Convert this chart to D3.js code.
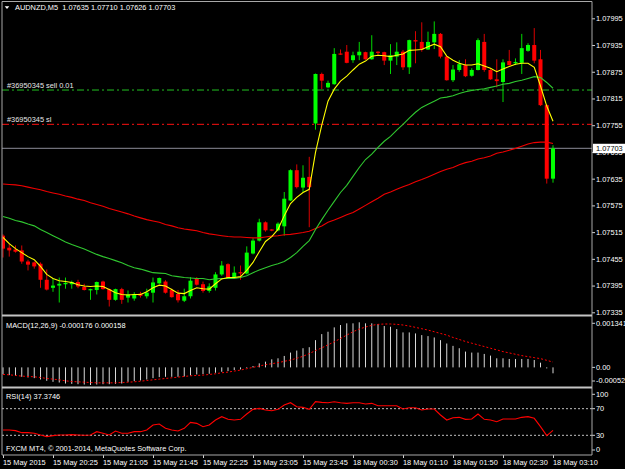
<!DOCTYPE html>
<html><head><meta charset="utf-8">
<script src="https://cdn.jsdelivr.net/npm/d3@7"></script>
<style>html,body{margin:0;padding:0;background:#000;overflow:hidden}svg{display:block}</style>
</head><body><svg id="c" width="625" height="469"></svg>
<script>
// ---------- DATA ----------
const symbolTitle = "AUDNZD,M5  1.07635 1.07710 1.07626 1.07703";
const openP = [1.07507,1.07480,1.07476,1.07474,1.07449,1.07447,1.07444,1.07408,1.07390,1.07395,
1.07398,1.07398,1.07403,1.07392,1.07385,1.07385,1.07404,1.07387,1.07363,1.07387,
1.07368,1.07366,1.07377,1.07371,1.07379,1.07400,1.07404,1.07385,1.07376,1.07361,
1.07371,1.07412,1.07398,1.07383,1.07390,1.07420,1.07443,1.07413,1.07425,1.07422,
1.07467,1.07496,1.07537,1.07521,1.07519,1.07528,1.07586,1.07654,1.07615,1.07639,
1.07759,1.07870,1.07840,1.07847,1.07916,1.07920,1.07901,1.07912,1.07919,1.07903,
1.07920,1.07919,1.07900,1.07909,1.07920,1.07885,1.07946,1.07942,1.07925,1.07941,
1.07960,1.07909,1.07856,1.07879,1.07890,1.07866,1.07879,1.07942,1.07879,1.07858,
1.07852,1.07899,1.07894,1.07895,1.07922,1.07935,1.07903,1.07800,1.07635];
const highP = [1.07510,1.07489,1.07485,1.07485,1.07453,1.07449,1.07447,1.07431,1.07411,1.07413,
1.07413,1.07406,1.07408,1.07399,1.07388,1.07404,1.07406,1.07388,1.07388,1.07390,
1.07384,1.07380,1.07381,1.07388,1.07413,1.07413,1.07407,1.07388,1.07385,1.07388,
1.07414,1.07414,1.07404,1.07400,1.07425,1.07450,1.07445,1.07438,1.07440,1.07483,
1.07501,1.07545,1.07539,1.07522,1.07537,1.07605,1.07656,1.07667,1.07665,1.07684,
1.07871,1.07873,1.07855,1.07928,1.07925,1.07935,1.07920,1.07942,1.07920,1.07957,
1.07921,1.07920,1.07937,1.07941,1.07924,1.07947,1.07966,1.07986,1.07965,1.07988,
1.07962,1.07910,1.07890,1.07901,1.07903,1.07883,1.07950,1.07960,1.07881,1.07903,
1.07903,1.07924,1.07905,1.07960,1.07939,1.07973,1.07924,1.07802,1.07710];
const lowP = [1.07458,1.07460,1.07469,1.07444,1.07429,1.07433,1.07390,1.07384,1.07381,1.07357,
1.07388,1.07388,1.07389,1.07384,1.07363,1.07375,1.07386,1.07348,1.07361,1.07354,
1.07357,1.07361,1.07368,1.07366,1.07357,1.07399,1.07377,1.07368,1.07357,1.07358,
1.07366,1.07395,1.07379,1.07379,1.07384,1.07417,1.07410,1.07411,1.07408,1.07420,
1.07465,1.07494,1.07516,1.07517,1.07517,1.07507,1.07585,1.07613,1.07605,1.07526,
1.07745,1.07836,1.07838,1.07846,1.07913,1.07894,1.07895,1.07901,1.07902,1.07902,
1.07913,1.07890,1.07870,1.07890,1.07879,1.07870,1.07894,1.07920,1.07924,1.07926,
1.07905,1.07855,1.07852,1.07875,1.07863,1.07864,1.07878,1.07875,1.07857,1.07840,
1.07807,1.07889,1.07890,1.07870,1.07920,1.07894,1.07798,1.07624,1.07626];
const closeP = [1.07478,1.07474,1.07471,1.07449,1.07442,1.07438,1.07408,1.07386,1.07395,1.07399,
1.07401,1.07403,1.07393,1.07385,1.07387,1.07403,1.07387,1.07363,1.07387,1.07363,
1.07375,1.07375,1.07372,1.07379,1.07402,1.07412,1.07379,1.07369,1.07362,1.07371,
1.07406,1.07397,1.07383,1.07393,1.07420,1.07440,1.07412,1.07424,1.07423,1.07469,
1.07496,1.07537,1.07519,1.07519,1.07534,1.07590,1.07654,1.07616,1.07637,1.07616,
1.07870,1.07855,1.07850,1.07915,1.07914,1.07895,1.07912,1.07920,1.07903,1.07920,
1.07918,1.07900,1.07912,1.07920,1.07885,1.07946,1.07943,1.07925,1.07942,1.07960,
1.07909,1.07856,1.07880,1.07892,1.07865,1.07879,1.07946,1.07879,1.07858,1.07854,
1.07896,1.07890,1.07897,1.07928,1.07935,1.07900,1.07800,1.07635,1.07703];
const maFast = [1.07503,1.07489,1.07478,1.07469,1.07460,1.07453,1.07438,1.07420,1.07411,1.07406,
1.07404,1.07402,1.07397,1.07394,1.07393,1.07394,1.07393,1.07386,1.07379,1.07375,
1.07374,1.07375,1.07375,1.07381,1.07390,1.07396,1.07394,1.07386,1.07378,1.07377,
1.07384,1.07390,1.07388,1.07387,1.07399,1.07410,1.07413,1.07413,1.07415,1.07429,
1.07447,1.07471,1.07494,1.07505,1.07521,1.07552,1.07579,1.07593,1.07604,1.07611,
1.07694,1.07755,1.07809,1.07836,1.07854,1.07865,1.07879,1.07892,1.07899,1.07910,
1.07912,1.07911,1.07909,1.07912,1.07915,1.07923,1.07924,1.07925,1.07931,1.07937,
1.07931,1.07910,1.07901,1.07894,1.07890,1.07890,1.07893,1.07888,1.07883,1.07875,
1.07881,1.07887,1.07892,1.07894,1.07894,1.07885,1.07843,1.07798,1.07764];
const maMid = [1.07550,1.07546,1.07541,1.07538,1.07533,1.07529,1.07521,1.07514,1.07507,1.07500,
1.07493,1.07487,1.07482,1.07477,1.07471,1.07465,1.07460,1.07456,1.07451,1.07446,
1.07440,1.07435,1.07432,1.07428,1.07424,1.07423,1.07422,1.07417,1.07415,1.07413,
1.07412,1.07411,1.07411,1.07408,1.07410,1.07411,1.07411,1.07411,1.07413,1.07417,
1.07424,1.07430,1.07435,1.07440,1.07444,1.07449,1.07458,1.07469,1.07483,1.07496,
1.07521,1.07543,1.07564,1.07584,1.07604,1.07620,1.07640,1.07660,1.07678,1.07690,
1.07705,1.07719,1.07730,1.07744,1.07757,1.07771,1.07784,1.07795,1.07802,1.07809,
1.07816,1.07818,1.07821,1.07826,1.07830,1.07833,1.07835,1.07837,1.07840,1.07843,
1.07847,1.07849,1.07853,1.07856,1.07860,1.07864,1.07862,1.07851,1.07838];
const maSlow = [1.07623,1.07622,1.07621,1.07619,1.07616,1.07613,1.07610,1.07606,1.07603,1.07600,
1.07596,1.07593,1.07589,1.07586,1.07581,1.07577,1.07573,1.07568,1.07564,1.07560,
1.07556,1.07551,1.07547,1.07543,1.07540,1.07537,1.07532,1.07529,1.07525,1.07522,
1.07520,1.07518,1.07514,1.07511,1.07509,1.07507,1.07505,1.07504,1.07504,1.07503,
1.07502,1.07502,1.07504,1.07506,1.07507,1.07509,1.07510,1.07512,1.07514,1.07517,
1.07523,1.07529,1.07537,1.07542,1.07548,1.07554,1.07559,1.07567,1.07575,1.07583,
1.07591,1.07600,1.07605,1.07611,1.07617,1.07622,1.07628,1.07633,1.07639,1.07645,
1.07651,1.07656,1.07660,1.07666,1.07671,1.07674,1.07679,1.07682,1.07686,1.07692,
1.07695,1.07699,1.07703,1.07708,1.07713,1.07716,1.07717,1.07717,1.07714];
const macdMain = [-0.00020,-0.00023,-0.00025,-0.00028,-0.00030,-0.00032,-0.00036,-0.00040,-0.00043,-0.00045,
-0.00048,-0.00049,-0.00050,-0.00051,-0.000524,-0.00051,-0.00050,-0.00050,-0.00049,-0.00048,
-0.00043,-0.00041,-0.00039,-0.00036,-0.00032,-0.00029,-0.00028,-0.00028,-0.00028,-0.00027,
-0.00024,-0.00021,-0.00020,-0.00019,-0.00016,-0.00013,-0.00011,-0.00008,-0.00006,-0.00002,
0.00004,0.00012,0.00017,0.00024,0.00027,0.00034,0.00044,0.00050,0.00057,0.00060,
0.00081,0.00099,0.00106,0.00119,0.00126,0.00131,0.00131,0.001341,0.00131,0.00131,
0.00129,0.00123,0.00121,0.00114,0.00104,0.00104,0.00101,0.00096,0.00093,0.00089,
0.00081,0.00071,0.00064,0.00057,0.00047,0.00044,0.00044,0.00040,0.00035,0.00027,
0.00027,0.00025,0.00025,0.00025,0.00025,0.00022,0.00014,-0.00003,-0.000176];
const macdSignal = [-0.00021,-0.00022,-0.00024,-0.00026,-0.00027,-0.00028,-0.00030,-0.00033,-0.00035,-0.00037,
-0.00040,-0.00042,-0.00043,-0.00044,-0.00045,-0.00046,-0.00046,-0.00046,-0.00046,-0.00045,
-0.00044,-0.00043,-0.00041,-0.00039,-0.00037,-0.00035,-0.00033,-0.00031,-0.00029,-0.00027,
-0.00025,-0.00024,-0.00023,-0.00021,-0.00019,-0.00016,-0.00014,-0.00011,-0.00008,-0.00004,
0.00000,0.00004,0.00008,0.00011,0.00014,0.00018,0.00022,0.00027,0.00033,0.00041,
0.00050,0.00058,0.00067,0.00076,0.00086,0.00096,0.00106,0.00114,0.00120,0.00125,
0.00128,0.00129,0.00129,0.00128,0.00126,0.00123,0.00119,0.00115,0.00111,0.00106,
0.00101,0.00096,0.00089,0.00083,0.00077,0.00072,0.00067,0.00062,0.00057,0.00052,
0.00047,0.00043,0.00039,0.00035,0.00032,0.00029,0.00026,0.00021,0.000158];
const rsiVals = [38,38,37,34,34,33,30.5,28,29.5,30.5,
30.5,31,30.5,30,30.5,35.5,33,30.5,36.5,33,
33,35.5,35.5,38,45.5,47,40.5,38,36.5,40.5,
49.5,48,43,45.5,53,58,54,53,54,62,
69,70.5,68,67,69,75.5,79,73,72,69,
80.5,79.5,79,80.5,79,78,79,79,77,78,
74.5,74.5,74.5,74.5,69.5,71.5,71.5,68,69.5,69.5,
60.5,53,56.5,57,54,54.5,62,54,53,50.5,
54.5,54.5,54.5,57,58,55.5,43,29.5,37.3746];
const priceTicks = [1.07995,1.07935,1.07875,1.07815,1.07755,1.07695,1.07635,1.07575,1.07515,1.07455,1.07395,1.07335];
const macdTicks = [0.001341, 0, -0.000524];
const rsiTicks = [100, 70, 30, 0];
const rsiLevels = [70, 30];
const timeIdx = [0,8,16,24,32,40,48,56,64,72,80,88];
const timeLabels = ["15 May 2015","15 May 20:25","15 May 21:05","15 May 21:45","15 May 22:25","15 May 23:05","15 May 23:45","18 May 00:30","18 May 01:10","18 May 01:50","18 May 02:30","18 May 03:10"];
const sellPrice = 1.07834, slPrice = 1.07757, bidPrice = 1.07703;
const sellLabel = "#36950345 sell 0.01", slLabel = "#36950345 sl";
const macdLabel = "MACD(12,26,9) -0.000176 0.000158";
const rsiLabel = "RSI(14) 37.3746";
const copyLabel = "FXCM MT4, \u00a9 2001-2014, MetaQuotes Software Corp.";

// ---------- LAYOUT ----------
const FONT = "'Liberation Sans', Arial, sans-serif";
const FS = 7.4;
const paneL = 2, paneR = 592;
const svg = d3.select('#c');
svg.append('rect').attr('width',625).attr('height',469).attr('fill','#000');

const n = closeP.length;
const x = d3.scaleLinear().domain([0, n-1]).range([3, 553]);
const y = d3.scaleLinear().domain([1.07335, 1.07995]).range([312.3, 18.3]);
const yM = d3.scaleLinear().domain([macdTicks[2], macdTicks[0]]).range([385, 322.3]);
const yR = d3.scaleLinear().domain([0, 100]).range([455.3, 388.7]);

const defs = svg.append('defs');
defs.append('clipPath').attr('id','cm').append('rect').attr('x',paneL).attr('y',2).attr('width',paneR-paneL).attr('height',313);
defs.append('clipPath').attr('id','cmacd').append('rect').attr('x',paneL).attr('y',317).attr('width',paneR-paneL).attr('height',70);
defs.append('clipPath').attr('id','crsi').append('rect').attr('x',paneL).attr('y',389).attr('width',paneR-paneL).attr('height',66);

function txt(g, s, tx, ty, fill) {
  return g.append('text').attr('x',tx).attr('y',ty).attr('fill',fill||'#fff')
    .style('font-family',FONT).style('font-size',FS+'px').text(s);
}

// ---------- MAIN PANE ----------
const gm = svg.append('g').attr('clip-path','url(#cm)');
gm.append('line').attr('x1',paneL).attr('x2',paneR).attr('y1',y(sellPrice)).attr('y2',y(sellPrice))
  .attr('stroke','#22c022').attr('stroke-width',1).attr('stroke-dasharray','7,3,2,3');
gm.append('line').attr('x1',paneL).attr('x2',paneR).attr('y1',y(slPrice)).attr('y2',y(slPrice))
  .attr('stroke','#ff1010').attr('stroke-width',1).attr('stroke-dasharray','7,3,2,3');
gm.append('line').attr('x1',paneL).attr('x2',paneR).attr('y1',y(bidPrice)).attr('y2',y(bidPrice))
  .attr('stroke','#70707a').attr('stroke-width',1.4);
txt(gm, sellLabel, 7, y(sellPrice)-1.8, '#e8e8e8');
txt(gm, slLabel, 7, y(slPrice)-2.3, '#e8e8e8');

const idx = d3.range(n);
const col = i => closeP[i] >= openP[i] ? '#00ff00' : '#ff0000';
gm.selectAll('line.wick').data(idx).join('line').attr('class','wick')
  .attr('x1',i=>x(i)).attr('x2',i=>x(i)).attr('y1',i=>y(highP[i])).attr('y2',i=>y(lowP[i]))
  .attr('stroke',col).attr('stroke-width',1).attr('stroke-opacity',0.85);
gm.selectAll('rect.body').data(idx).join('rect').attr('class','body')
  .attr('x',i=>x(i)-2).attr('width',4)
  .attr('y',i=>Math.min(y(openP[i]),y(closeP[i])))
  .attr('height',i=>Math.max(1.2, Math.abs(y(openP[i])-y(closeP[i]))))
  .attr('fill',col);

const pl = d3.line().x((d,i)=>x(i)).y(d=>y(d));
gm.append('path').attr('d',pl(maSlow)).attr('fill','none').attr('stroke','#f00000').attr('stroke-width',1.1);
gm.append('path').attr('d',pl(maMid)).attr('fill','none').attr('stroke','#30c830').attr('stroke-width',1.1);
gm.append('path').attr('d',pl(maFast)).attr('fill','none').attr('stroke','#ffff00').attr('stroke-width',1.1);

// ---------- MACD PANE ----------
const gmacd = svg.append('g').attr('clip-path','url(#cmacd)');
gmacd.selectAll('line.h').data(idx).join('line').attr('class','h')
  .attr('x1',i=>x(i)).attr('x2',i=>x(i)).attr('y1',yM(0)).attr('y2',i=>yM(macdMain[i]))
  .attr('stroke','#d8d8d8').attr('stroke-width',1);
gmacd.append('path').attr('d',d3.line().x((d,i)=>x(i)).y(d=>yM(d))(macdSignal))
  .attr('fill','none').attr('stroke','#ff0000').attr('stroke-width',1).attr('stroke-dasharray','2,2');
txt(svg, macdLabel, 6, 327.6);

// ---------- RSI PANE ----------
const grsi = svg.append('g').attr('clip-path','url(#crsi)');
grsi.selectAll('line.lv').data(rsiLevels).join('line').attr('class','lv')
  .attr('x1',paneL).attr('x2',paneR).attr('y1',d=>yR(d)).attr('y2',d=>yR(d))
  .attr('stroke','#c0c0c0').attr('stroke-width',1).attr('stroke-dasharray','2,2');
grsi.append('path').attr('d',d3.line().x((d,i)=>x(i)).y(d=>yR(d))(rsiVals))
  .attr('fill','none').attr('stroke','#ff0000').attr('stroke-width',1.1);
txt(svg, rsiLabel, 6, 398.6);
txt(svg, copyLabel, 6, 451);

// ---------- AXES ----------
function styleAxis(g) {
  g.attr('font-family',null).attr('font-size',null);
  g.select('.domain').remove();
  g.selectAll('line').attr('stroke','#d0d0d0');
  g.selectAll('text').attr('fill','#fff').style('font-family',FONT).style('font-size',FS+'px');
}
svg.append('g').attr('transform',`translate(${paneR},0)`)
  .call(d3.axisRight(y).tickValues(priceTicks).tickSize(3).tickPadding(1).tickFormat(d3.format('.5f')))
  .call(styleAxis);

const gMA = svg.append('g').attr('transform',`translate(${paneR},0)`)
  .call(d3.axisRight(yM).tickValues(macdTicks).tickSize(3).tickPadding(1).tickFormat(d => d === 0 ? '0.00' : d.toFixed(6)))
  .call(styleAxis);
gMA.selectAll('.tick').attr('transform', d => `translate(0,${yM(d) + (d===macdTicks[0] ? 1 : d===macdTicks[2] ? -4 : 0)})`);

const gRA = svg.append('g').attr('transform',`translate(${paneR},0)`)
  .call(d3.axisRight(yR).tickValues(rsiTicks).tickSize(3).tickPadding(1).tickFormat(d3.format('d')))
  .call(styleAxis);
gRA.selectAll('.tick').attr('transform', d => `translate(0,${yR(d) + (d===100 ? 5.6 : d===0 ? -5.3 : 0)})`);

const gT = svg.append('g').attr('transform','translate(0,455)')
  .call(d3.axisBottom(x).tickValues(timeIdx).tickSize(3).tickPadding(2).tickFormat((d,i)=>timeLabels[i]))
  .call(styleAxis);
gT.selectAll('text').attr('text-anchor','start').attr('x',-0.5);

// current price box
svg.append('rect').attr('x',593).attr('y',y(bidPrice)-4.6).attr('width',32).attr('height',9.4).attr('fill','#fff');
txt(svg, d3.format('.5f')(bidPrice), 596, y(bidPrice)+2.7, '#000');

// ---------- FRAME ----------
const fr = svg.append('g').attr('stroke','#a8a8a8').attr('fill','none');
fr.append('line').attr('x1',paneL).attr('x2',paneR).attr('y1',1.5).attr('y2',1.5);
fr.append('line').attr('x1',paneL).attr('x2',paneL).attr('y1',1.5).attr('y2',455);
fr.append('line').attr('x1',paneR).attr('x2',paneR).attr('y1',1.5).attr('y2',455);
fr.append('line').attr('x1',paneL).attr('x2',paneR).attr('y1',455).attr('y2',455);
fr.append('line').attr('x1',paneL).attr('x2',paneR).attr('y1',315.5).attr('y2',315.5).attr('stroke','#c4c4c4').attr('stroke-width',2);
fr.append('line').attr('x1',paneL).attr('x2',paneR).attr('y1',387.5).attr('y2',387.5).attr('stroke','#c4c4c4').attr('stroke-width',2);

// title
svg.append('path').attr('d','M4.7,6.2 L9.3,6.2 L7,9 Z').attr('fill','#fff');
txt(svg, symbolTitle, 15, 10.4).attr('xml:space','preserve').style('white-space','pre');
</script>
</body></html>
